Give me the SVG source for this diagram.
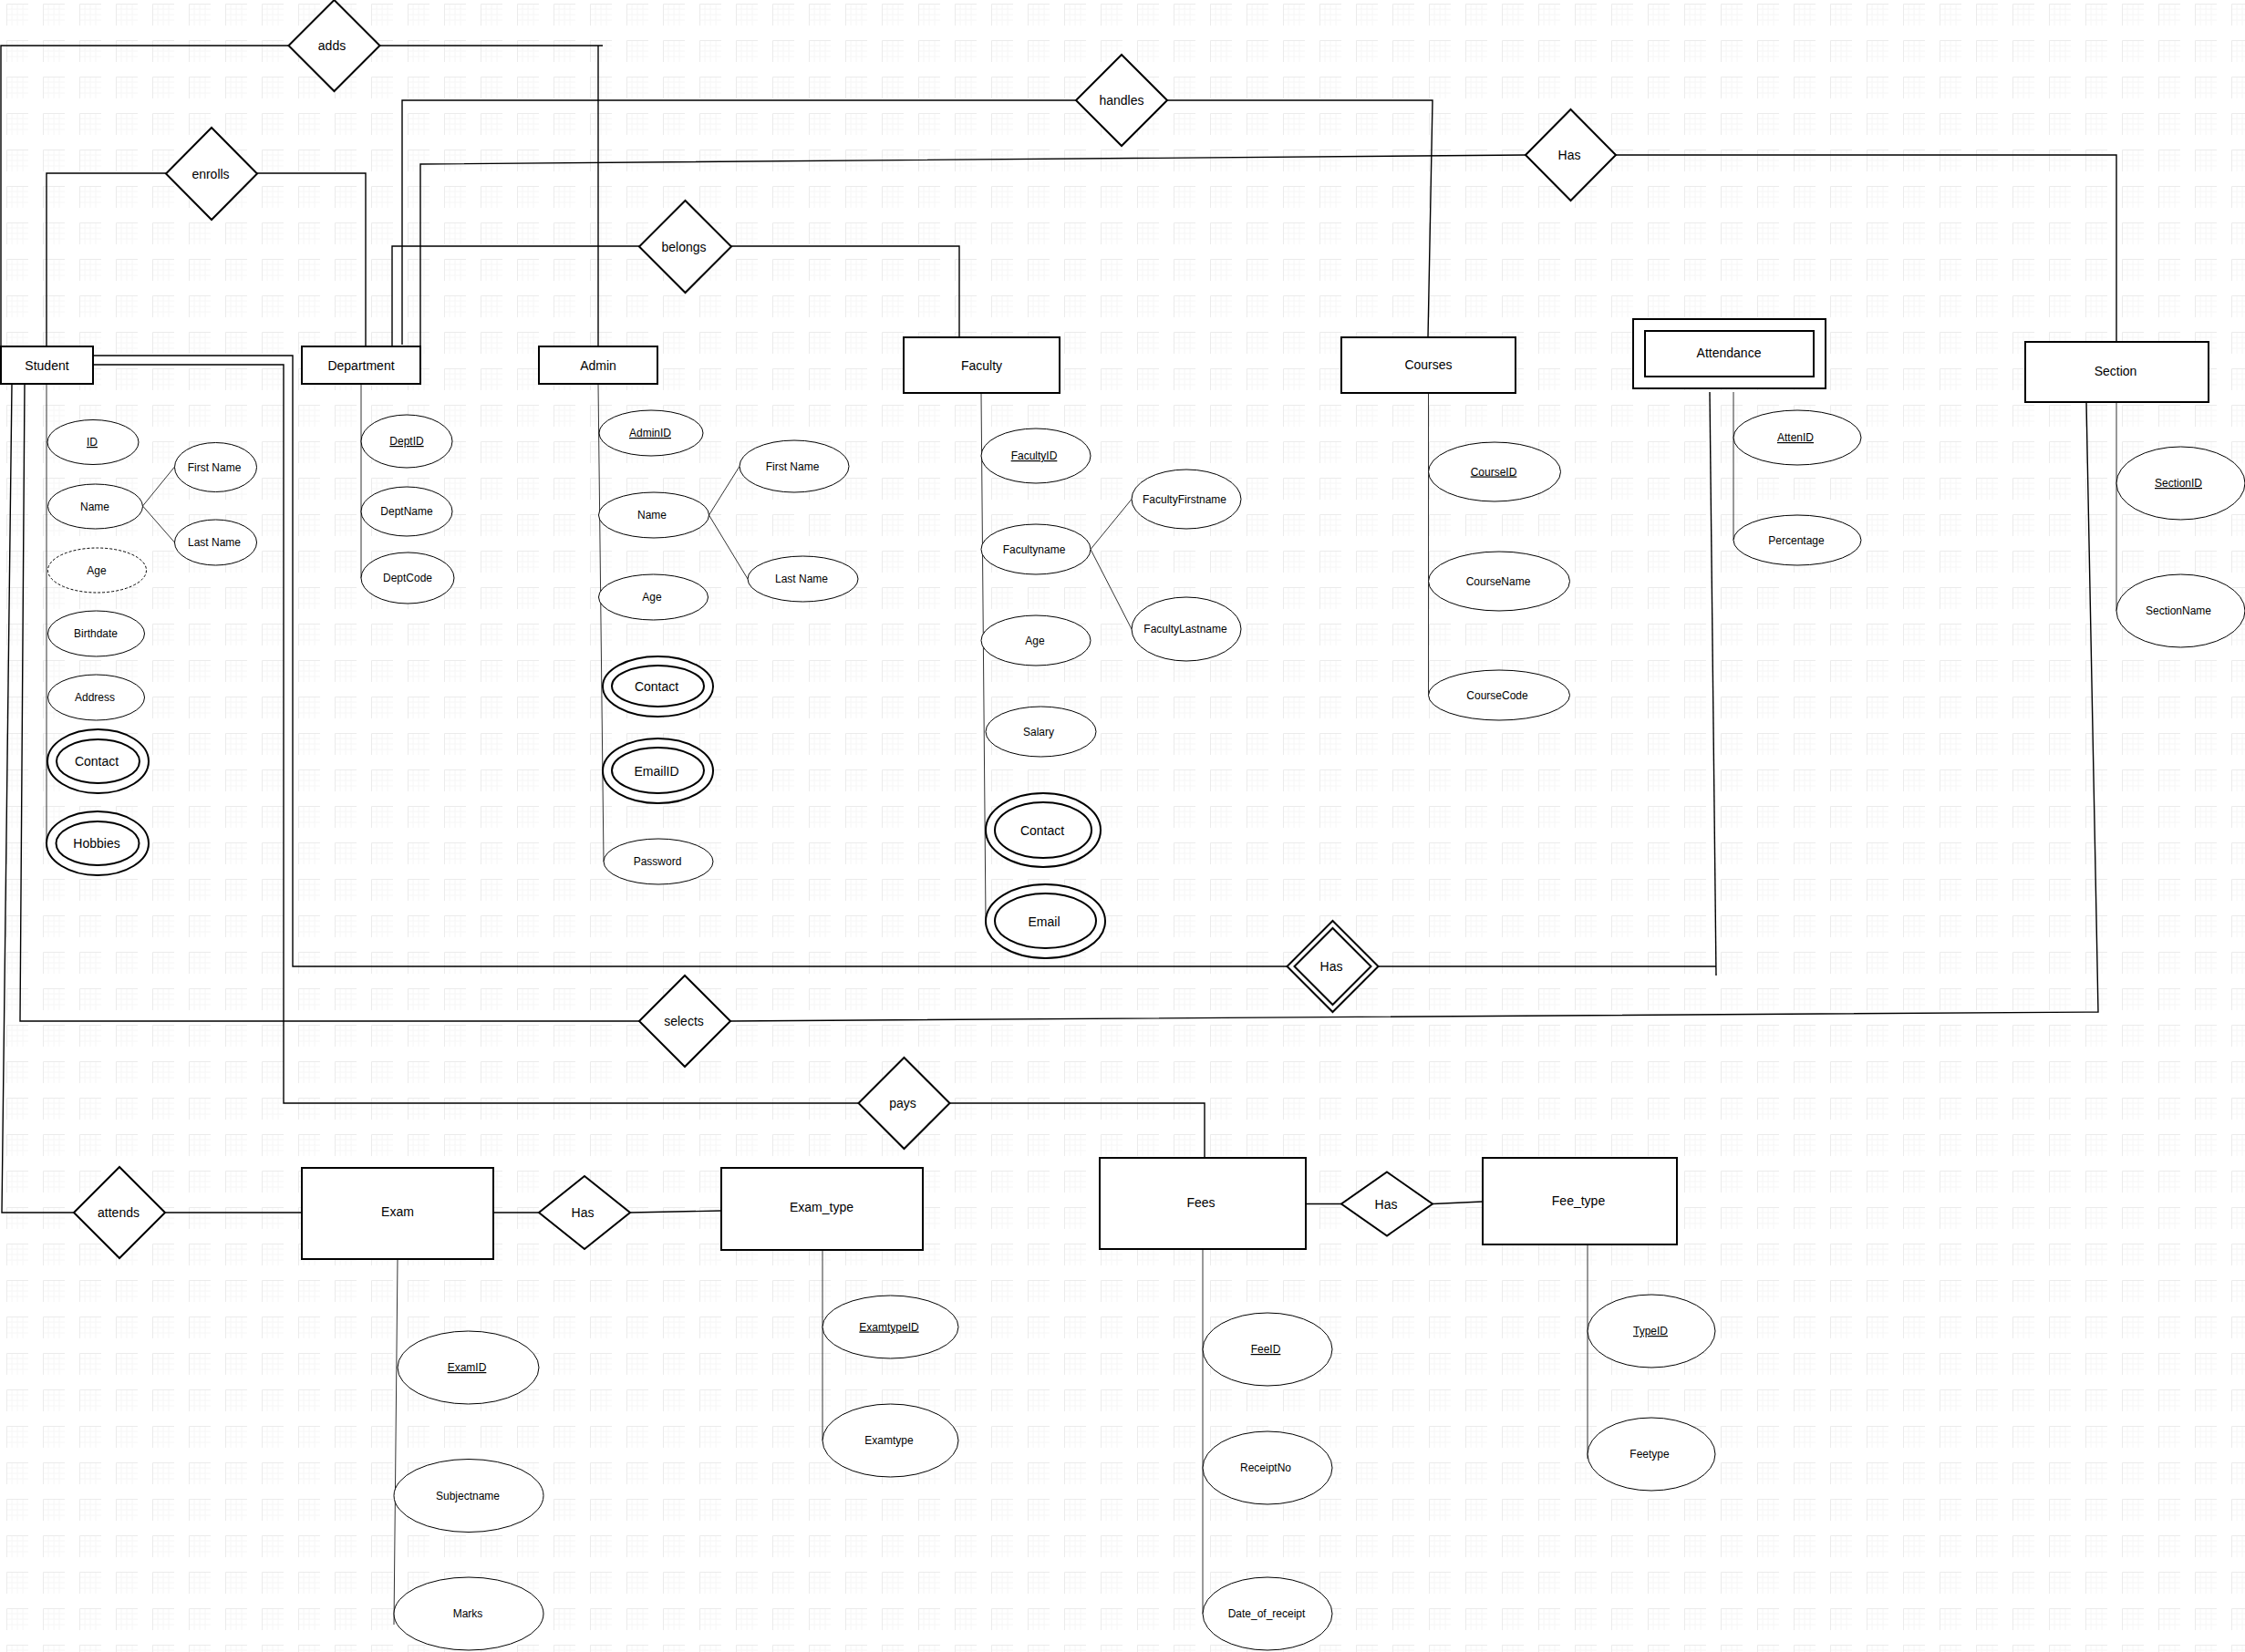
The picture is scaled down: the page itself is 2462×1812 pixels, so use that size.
<svg xmlns="http://www.w3.org/2000/svg" width="2462" height="1812" viewBox="0 0 2462 1812">
<style>
text{font-family:"Liberation Sans",Arial,sans-serif;fill:#000;text-anchor:middle}
.t14{font-size:14px}
.t12{font-size:12px}
.u{text-decoration:underline}
.ent{fill:#fff;stroke:#000;stroke-width:2}
.rel{fill:#fff;stroke:#000;stroke-width:2}
.att{fill:#fff;stroke:#000;stroke-width:1}
.mv{fill:#fff;stroke:#000;stroke-width:2}
.der{fill:#fff;stroke:#000;stroke-width:1;stroke-dasharray:3 2}
.c{fill:none;stroke:#000;stroke-width:1.4}
.a{fill:none;stroke:#333;stroke-width:1}
</style>
<defs>
<pattern id="grid" x="7" y="4" width="40" height="40" patternUnits="userSpaceOnUse">
<path d="M6 0V24M12 0V24M18 0V24M0 6H24M0 12H24M0 18H24" fill="none" stroke="#f6f6f6" stroke-width="1"/>
<path d="M0.5 24V0.5H24" fill="none" stroke="#ebebeb" stroke-width="1"/>
</pattern>
</defs>
<rect width="2462" height="1812" fill="#fff"/>
<rect width="2462" height="1812" fill="url(#grid)"/>

<g id="connectors">
<!-- adds -->
<polyline class="c" points="316,50 1,50 1,380"/>
<polyline class="c" points="416,50 661,50"/>
<line class="c" x1="656" y1="50" x2="656" y2="380"/>
<!-- enrolls -->
<polyline class="c" points="182,190 51,190 51,380"/>
<polyline class="c" points="282,190 401,190 401,380"/>
<!-- handles -->
<polyline class="c" points="441,378 441,110 1180,110"/>
<polyline class="c" points="1280,110 1571,110 1566,370"/>
<!-- Has top -->
<polyline class="c" points="461,380 461,180 1673,170"/>
<polyline class="c" points="1772,170 2321,170 2321,375"/>
<!-- belongs -->
<polyline class="c" points="430,380 430,270 701,270"/>
<polyline class="c" points="802,270 1052,270 1052,370"/>
<!-- Student to Has (double) -->
<polyline class="c" points="102,390 321,390 321,1060 1411,1060"/>
<polyline class="c" points="1512,1060 1882,1060"/>
<polyline class="c" points="1875,430 1882,1070"/>
<!-- pays -->
<polyline class="c" points="102,400 311,400 311,1210 941,1210"/>
<polyline class="c" points="1042,1210 1321,1210 1321,1270"/>
<!-- selects -->
<polyline class="c" points="27,421 22,1120 701,1120"/>
<polyline class="c" points="801,1120 2301,1110 2288,441"/>
<!-- attends -->
<polyline class="c" points="13,421 2,1330 81,1330"/>
<line class="c" x1="181" y1="1330" x2="331" y2="1330"/>
<!-- Exam Has -->
<line class="c" x1="541" y1="1330" x2="591" y2="1330"/>
<line class="c" x1="691" y1="1330" x2="791" y2="1328"/>
<!-- Fees Has -->
<line class="c" x1="1432" y1="1320.5" x2="1471" y2="1320.5"/>
<line class="c" x1="1571" y1="1320.5" x2="1626" y2="1318"/>
<!-- attribute lines -->
<line class="a" x1="51" y1="421" x2="51" y2="925"/>
<line class="a" x1="156.5" y1="555" x2="191.5" y2="512"/>
<line class="a" x1="156.5" y1="555" x2="191.5" y2="595"/>
<line class="a" x1="396" y1="421" x2="396" y2="634"/>
<line class="a" x1="656" y1="421" x2="662" y2="945"/>
<line class="a" x1="777.5" y1="565" x2="811" y2="511.5"/>
<line class="a" x1="777.5" y1="565" x2="820" y2="635"/>
<line class="a" x1="1076" y1="431" x2="1081" y2="1010"/>
<line class="a" x1="1196" y1="602.5" x2="1241" y2="547.5"/>
<line class="a" x1="1196" y1="602.5" x2="1241" y2="690"/>
<line class="a" x1="1566.5" y1="431" x2="1566.5" y2="762.5"/>
<line class="a" x1="1901" y1="430" x2="1901" y2="592.5"/>
<line class="a" x1="2321" y1="441" x2="2321" y2="670"/>
<line class="a" x1="436" y1="1381" x2="432" y2="1782"/>
<line class="a" x1="902" y1="1371" x2="902" y2="1580"/>
<line class="a" x1="1319" y1="1370" x2="1319" y2="1770"/>
<line class="a" x1="1741" y1="1365" x2="1741" y2="1600"/>
</g>

<!-- Entities -->
<g id="student"><rect class="ent" x="1" y="380" width="101" height="41"/><text class="t14" x="51.5" y="405.5">Student</text></g>
<g id="department"><rect class="ent" x="331" y="380" width="130" height="41"/><text class="t14" x="396" y="405.5">Department</text></g>
<g id="admin"><rect class="ent" x="591" y="380" width="130" height="41"/><text class="t14" x="656" y="405.5">Admin</text></g>
<g id="faculty"><rect class="ent" x="991" y="370" width="171" height="61"/><text class="t14" x="1076.5" y="405.5">Faculty</text></g>
<g id="courses"><rect class="ent" x="1471" y="370" width="191" height="61"/><text class="t14" x="1566.5" y="404.5">Courses</text></g>
<g id="attendance"><rect class="ent" x="1791" y="350" width="211" height="76"/><rect class="ent" x="1804" y="363" width="185" height="50"/><text class="t14" x="1896" y="392">Attendance</text></g>
<g id="section"><rect class="ent" x="2221" y="375" width="201" height="66"/><text class="t14" x="2320" y="412">Section</text></g>
<g id="exam"><rect class="ent" x="331" y="1281" width="210" height="100"/><text class="t14" x="436" y="1334">Exam</text></g>
<g id="exam_type"><rect class="ent" x="791" y="1281" width="221" height="90"/><text class="t14" x="901" y="1329">Exam_type</text></g>
<g id="fees"><rect class="ent" x="1206" y="1270" width="226" height="100"/><text class="t14" x="1317" y="1324">Fees</text></g>
<g id="fee_type"><rect class="ent" x="1626" y="1270" width="213" height="95"/><text class="t14" x="1731" y="1322">Fee_type</text></g>

<!-- Relationships -->
<g id="rel-adds"><polygon class="rel" points="366.5,0 416.5,50 366.5,100 316.5,50"/><text class="t14" x="364" y="55">adds</text></g>
<g id="rel-enrolls"><polygon class="rel" points="232,140 282,190.5 232,241 182,190.5"/><text class="t14" x="231" y="195.5">enrolls</text></g>
<g id="rel-handles"><polygon class="rel" points="1230,60 1280,110 1230,160 1180,110"/><text class="t14" x="1230" y="115">handles</text></g>
<g id="rel-has-section"><polygon class="rel" points="1722.5,120 1772,170 1722.5,220 1673,170"/><text class="t14" x="1721" y="175">Has</text></g>
<g id="rel-belongs"><polygon class="rel" points="751.5,220 802,270.5 751.5,321 701,270.5"/><text class="t14" x="750" y="275.5">belongs</text></g>
<g id="rel-has-attendance"><polygon class="rel" points="1461.5,1010 1511.5,1060 1461.5,1110 1411.5,1060"/><polygon class="rel" points="1461.5,1018 1503.5,1060 1461.5,1102 1419.5,1060"/><text class="t14" x="1460" y="1065">Has</text></g>
<g id="rel-selects"><polygon class="rel" points="751,1070 801,1120 751,1170 701,1120"/><text class="t14" x="750" y="1125">selects</text></g>
<g id="rel-pays"><polygon class="rel" points="991.5,1160 1041.5,1210 991.5,1260 941.5,1210"/><text class="t14" x="990" y="1215">pays</text></g>
<g id="rel-attends"><polygon class="rel" points="131,1280 181,1330 131,1380 81,1330"/><text class="t14" x="130" y="1335">attends</text></g>
<g id="rel-has-exam"><polygon class="rel" points="641,1290 691,1330 641,1370 591,1330"/><text class="t14" x="639" y="1335">Has</text></g>
<g id="rel-has-fees"><polygon class="rel" points="1521,1285.5 1571,1320.5 1521,1355.5 1471,1320.5"/><text class="t14" x="1520" y="1325.5">Has</text></g>

<!-- Student attributes -->
<g id="st-id"><ellipse class="att" cx="102" cy="485" rx="50" ry="24.5"/><text class="t12 u" x="101" y="489">ID</text></g>
<g id="st-name"><ellipse class="att" cx="104.5" cy="555.5" rx="52" ry="24.5"/><text class="t12" x="104" y="559.5">Name</text></g>
<g id="st-first"><ellipse class="att" cx="236.5" cy="512.5" rx="45" ry="27"/><text class="t12" x="235" y="516.5">First Name</text></g>
<g id="st-last"><ellipse class="att" cx="236.5" cy="595" rx="45" ry="25"/><text class="t12" x="235" y="599">Last Name</text></g>
<g id="st-age"><ellipse class="der" cx="106.5" cy="625.5" rx="54" ry="24.5"/><text class="t12" x="106" y="629.5">Age</text></g>
<g id="st-birth"><ellipse class="att" cx="105.5" cy="695" rx="53" ry="25"/><text class="t12" x="105" y="699">Birthdate</text></g>
<g id="st-address"><ellipse class="att" cx="105.5" cy="765" rx="53" ry="25"/><text class="t12" x="104" y="769">Address</text></g>
<g id="st-contact"><ellipse class="mv" cx="107.5" cy="835" rx="55.5" ry="35"/><ellipse class="mv" cx="107.5" cy="835" rx="45.5" ry="24"/><text class="t14" x="106" y="840">Contact</text></g>
<g id="st-hobbies"><ellipse class="mv" cx="107" cy="925" rx="56" ry="35"/><ellipse class="mv" cx="107" cy="925" rx="45.5" ry="24"/><text class="t14" x="106" y="930">Hobbies</text></g>

<!-- Department attributes -->
<g id="dp-id"><ellipse class="att" cx="446" cy="484" rx="50" ry="29"/><text class="t12 u" x="446" y="488">DeptID</text></g>
<g id="dp-name"><ellipse class="att" cx="446" cy="561" rx="50" ry="27"/><text class="t12" x="446" y="565">DeptName</text></g>
<g id="dp-code"><ellipse class="att" cx="447" cy="634" rx="51" ry="28"/><text class="t12" x="447" y="638">DeptCode</text></g>

<!-- Admin attributes -->
<g id="ad-id"><ellipse class="att" cx="714" cy="475" rx="57" ry="25"/><text class="t12 u" x="713" y="479">AdminID</text></g>
<g id="ad-name"><ellipse class="att" cx="717" cy="565" rx="60.5" ry="25"/><text class="t12" x="715" y="569">Name</text></g>
<g id="ad-first"><ellipse class="att" cx="871" cy="511.5" rx="60" ry="28.5"/><text class="t12" x="869" y="515.5">First Name</text></g>
<g id="ad-last"><ellipse class="att" cx="880.5" cy="635" rx="60.5" ry="25"/><text class="t12" x="879" y="639">Last Name</text></g>
<g id="ad-age"><ellipse class="att" cx="716.5" cy="655" rx="60" ry="25"/><text class="t12" x="715" y="659">Age</text></g>
<g id="ad-contact"><ellipse class="mv" cx="721.5" cy="753" rx="60.5" ry="33"/><ellipse class="mv" cx="721.5" cy="752.5" rx="50.5" ry="22.5"/><text class="t14" x="720" y="758">Contact</text></g>
<g id="ad-email"><ellipse class="mv" cx="721.5" cy="845.5" rx="60.5" ry="35.5"/><ellipse class="mv" cx="721.5" cy="845" rx="50.5" ry="25"/><text class="t14" x="720" y="850.5">EmailID</text></g>
<g id="ad-pass"><ellipse class="att" cx="722" cy="945" rx="60" ry="25"/><text class="t12" x="721" y="949">Password</text></g>

<!-- Faculty attributes -->
<g id="fa-id"><ellipse class="att" cx="1136" cy="500" rx="60" ry="30"/><text class="t12 u" x="1134" y="504">FacultyID</text></g>
<g id="fa-name"><ellipse class="att" cx="1136" cy="602.5" rx="60" ry="27.5"/><text class="t12" x="1134" y="606.5">Facultyname</text></g>
<g id="fa-first"><ellipse class="att" cx="1301" cy="547.5" rx="60" ry="32.5"/><text class="t12" x="1299" y="551.5">FacultyFirstname</text></g>
<g id="fa-last"><ellipse class="att" cx="1301" cy="690" rx="60" ry="35"/><text class="t12" x="1300" y="694">FacultyLastname</text></g>
<g id="fa-age"><ellipse class="att" cx="1136" cy="702.5" rx="60" ry="27.5"/><text class="t12" x="1135" y="706.5">Age</text></g>
<g id="fa-salary"><ellipse class="att" cx="1141.5" cy="802.5" rx="60.5" ry="27.5"/><text class="t12" x="1139" y="806.5">Salary</text></g>
<g id="fa-contact"><ellipse class="mv" cx="1144" cy="910.5" rx="63" ry="40.5"/><ellipse class="mv" cx="1144" cy="910.5" rx="53" ry="30.5"/><text class="t14" x="1143" y="915.5">Contact</text></g>
<g id="fa-email"><ellipse class="mv" cx="1146.5" cy="1010.5" rx="65.5" ry="40.5"/><ellipse class="mv" cx="1146.5" cy="1010" rx="55.5" ry="30"/><text class="t14" x="1145" y="1015.5">Email</text></g>

<!-- Courses attributes -->
<g id="co-id"><ellipse class="att" cx="1639" cy="517.5" rx="72.5" ry="32.5"/><text class="t12 u" x="1638" y="521.5">CourseID</text></g>
<g id="co-name"><ellipse class="att" cx="1644" cy="637.5" rx="77.5" ry="32.5"/><text class="t12" x="1643" y="641.5">CourseName</text></g>
<g id="co-code"><ellipse class="att" cx="1644" cy="762.5" rx="77.5" ry="27.5"/><text class="t12" x="1642" y="766.5">CourseCode</text></g>

<!-- Attendance attributes -->
<g id="at-id"><ellipse class="att" cx="1971" cy="480" rx="70" ry="30"/><text class="t12 u" x="1969" y="484">AttenID</text></g>
<g id="at-pct"><ellipse class="att" cx="1971" cy="592.5" rx="70" ry="27.5"/><text class="t12" x="1970" y="596.5">Percentage</text></g>

<!-- Section attributes -->
<g id="se-id"><ellipse class="att" cx="2391.5" cy="530" rx="70.5" ry="40"/><text class="t12 u" x="2389" y="534">SectionID</text></g>
<g id="se-name"><ellipse class="att" cx="2391.5" cy="670" rx="70.5" ry="40"/><text class="t12" x="2389" y="674">SectionName</text></g>

<!-- Exam attributes -->
<g id="ex-id"><ellipse class="att" cx="513.5" cy="1500" rx="77.5" ry="40"/><text class="t12 u" x="512" y="1504">ExamID</text></g>
<g id="ex-subj"><ellipse class="att" cx="514" cy="1640.5" rx="82" ry="40"/><text class="t12" x="513" y="1644.5">Subjectname</text></g>
<g id="ex-marks"><ellipse class="att" cx="514" cy="1770" rx="82" ry="40"/><text class="t12" x="513" y="1774">Marks</text></g>

<!-- Exam_type attributes -->
<g id="et-id"><ellipse class="att" cx="976.5" cy="1455.5" rx="74.5" ry="34.5"/><text class="t12 u" x="975" y="1459.5">ExamtypeID</text></g>
<g id="et-type"><ellipse class="att" cx="976.5" cy="1580" rx="74.5" ry="40"/><text class="t12" x="975" y="1584">Examtype</text></g>

<!-- Fees attributes -->
<g id="fe-id"><ellipse class="att" cx="1390" cy="1480" rx="71" ry="40"/><text class="t12 u" x="1388" y="1484">FeeID</text></g>
<g id="fe-receipt"><ellipse class="att" cx="1390" cy="1610" rx="71" ry="40"/><text class="t12" x="1388" y="1614">ReceiptNo</text></g>
<g id="fe-date"><ellipse class="att" cx="1390" cy="1770" rx="71" ry="40"/><text class="t12" x="1389" y="1774">Date_of_receipt</text></g>

<!-- Fee_type attributes -->
<g id="ft-id"><ellipse class="att" cx="1811" cy="1460" rx="70" ry="40"/><text class="t12 u" x="1810" y="1464">TypeID</text></g>
<g id="ft-type"><ellipse class="att" cx="1811" cy="1595" rx="70" ry="40"/><text class="t12" x="1809" y="1599">Feetype</text></g>
</svg>
